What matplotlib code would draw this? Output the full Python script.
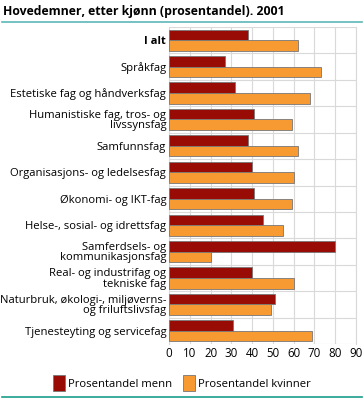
import numpy as np
import matplotlib.pyplot as plt
from matplotlib.lines import Line2D

categories = ["I alt", "Språkfag", "Estetiske fag og håndverksfag",
              "Humanistiske fag, tros- og\nlivssynsfag", "Samfunnsfag",
              "Organisasjons- og ledelsesfag", "Økonomi- og IKT-fag",
              "Helse-, sosial- og idrettsfag", "Samferdsels- og\nkommunikasjonsfag",
              "Real- og industrifag og\ntekniske fag",
              "Naturbruk, økologi-, miljøverns-\nog friluftslivsfag",
              "Tjenesteyting og servicefag"]
menn = [38, 27, 32, 41, 38, 40, 41, 45, 80, 40, 51, 31]
kvinner = [62, 73, 68, 59, 62, 60, 59, 55, 20, 60, 49, 69]
xticks = [0, 10, 20, 30, 40, 50, 60, 70, 80, 90]

plt.rcParams['font.family'] = ['Open Sans', 'DejaVu Sans']

fig = plt.figure(figsize=(3.64, 3.99), dpi=100)
ax = fig.add_axes([169/364, 1-344/399, 187/364, 317/399])

y = np.arange(len(categories))
h = 0.4
ax.barh(y - h/2, menn, height=h, color='#990c06', edgecolor='#777777', linewidth=0.6,
        label='Prosentandel menn', zorder=3)
ax.barh(y + h/2, kvinner, height=h, color='#f79a32', edgecolor='#777777', linewidth=0.6,
        label='Prosentandel kvinner', zorder=3)

ax.set_ylim(len(categories) - 0.5, -0.5)
ax.set_xlim(0, 90)
ax.set_xticks(xticks)
ax.set_xticklabels([str(t) for t in xticks], fontsize=8.3)
ax.set_yticks(y)
ax.set_yticklabels(categories, fontsize=8.1, linespacing=0.92)
ax.get_yticklabels()[0].set_fontweight('bold')
ax.set_yticks(np.arange(len(categories) + 1) - 0.5, minor=True)
ax.tick_params(axis='both', length=0, pad=2)
ax.tick_params(axis='y', which='minor', length=0)
ax.grid(axis='x', color='#d9d9d9', linewidth=0.8, zorder=0)
ax.grid(axis='y', which='minor', color='#d9d9d9', linewidth=0.8, zorder=0)
for s in ax.spines.values():
    s.set_visible(False)
ax.spines['right'].set_visible(True)
ax.spines['right'].set_color('#d9d9d9')
ax.spines['left'].set_visible(True)
ax.spines['left'].set_color('#d9d9d9')

fig.text(0.008, 1-12/399, "Hovedemner, etter kjønn (prosentandel). 2001",
         fontsize=8.8, fontweight='bold', va='center', ha='left')
fig.add_artist(Line2D([0.005, 0.995], [1-22/399, 1-22/399], color='#5cb8b8', linewidth=1.2))
fig.add_artist(Line2D([0.005, 0.995], [1-397/399, 1-397/399], color='#1a9e8c', linewidth=1.2))

fig.legend(loc='center', bbox_to_anchor=(0.5, 1-383/399), ncol=2, frameon=False,
           fontsize=8.1, handlelength=1.0, handleheight=1.9, columnspacing=1.0,
           handletextpad=0.3)

fig.savefig('out.png', dpi=100)
